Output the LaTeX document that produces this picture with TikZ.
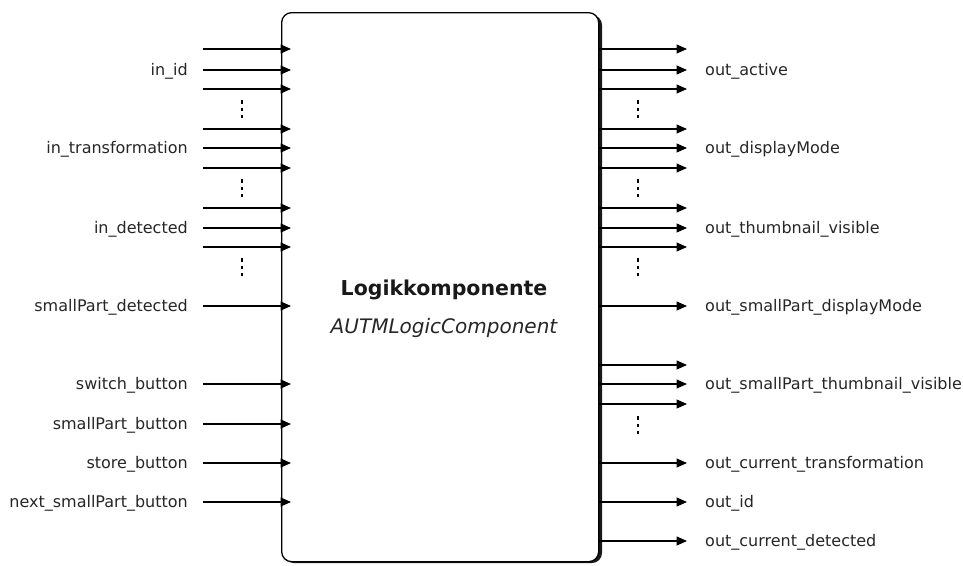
\documentclass[tikz,border=0pt]{standalone}
\usepackage{fontspec}
\setmainfont{DejaVu Sans}
\usetikzlibrary{arrows.meta}
\begin{document}
\begin{tikzpicture}[x=1pt,y=-1pt,
  sig/.style={line width=1.3pt,-{Triangle[length=10.5pt,width=9pt]}},
  lbl/.style={inner sep=0pt,font=\fontsize{16}{19}\selectfont,text=black!85},
  vdots/.style={line width=1.1pt,dash pattern=on 3.5pt off 4pt}]
\useasboundingbox (0,0) rectangle (963,565);
% box with shadow
\fill[black!90,rounded corners=10pt] (284,15) rectangle (602,563);
\node[draw,line width=1.3pt,fill=white,rounded corners=10pt,minimum width=317pt,minimum height=549pt,anchor=north west,inner sep=0pt] (box) at (281,12) {};
\node[font=\fontsize{20.5}{24}\selectfont\bfseries,text=black!90] (title) at (444,290) {Logikkomponente};
\node[font=\fontsize{20}{24}\selectfont\itshape,text=black!85] (sub) at (444,328) {AUTMLogicComponent};
% inputs
\foreach \y in {49,70,89,129,148,168,208,228,247,306,384,424,463,502}
  \draw[sig] (203,\y) -- (291,\y);
\foreach \y/\t in {70/in\_id,148/in\_transformation,228/in\_detected,306/smallPart\_detected,384/switch\_button,424/smallPart\_button,463/store\_button,502/next\_smallPart\_button}
  \node[lbl,anchor=east] at (188,\y+1) {\t};
\foreach \y in {100,179,258}
  \draw[vdots] (242,\y) -- (242,\y+18);
% outputs
\foreach \y in {49,70,89,129,148,168,208,228,247,306,365,384,404,463,502,541}
  \draw[sig] (599,\y) -- (687,\y);
\foreach \y/\t in {70/out\_active,148/out\_displayMode,228/out\_thumbnail\_visible,306/out\_smallPart\_displayMode,384/out\_smallPart\_thumbnail\_visible,463/out\_current\_transformation,502/out\_id,541/out\_current\_detected}
  \node[lbl,anchor=west] at (705,\y+1) {\t};
\foreach \y in {100,179,258,416}
  \draw[vdots] (638,\y) -- (638,\y+18);
\end{tikzpicture}
\end{document}
